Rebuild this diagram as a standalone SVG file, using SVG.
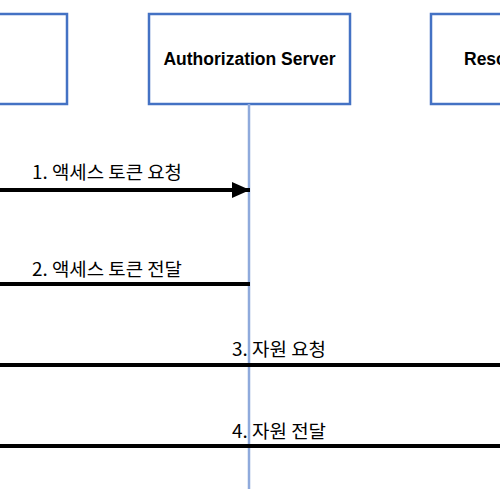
<svg xmlns="http://www.w3.org/2000/svg" width="500" height="500" viewBox="0 0 500 500">
<style>
.box{fill:#fff;stroke:#4472C4;stroke-width:2.5}
.title{font-family:"Liberation Sans","Noto Sans CJK KR",sans-serif;font-weight:bold;font-size:17.5px;fill:#000}
.lbl{font-family:"Noto Sans CJK KR","Noto Sans",sans-serif;font-size:18px;fill:#000}
.life{stroke:#8FAADC;stroke-width:2.5;fill:none}
.msg{stroke:#000;stroke-width:4;fill:none}
</style>
<defs>
<marker id="ah" viewBox="0 0 18 16" refX="18" refY="8" markerWidth="18" markerHeight="16" markerUnits="userSpaceOnUse" orient="auto">
<path d="M0,0 L18,8 L0,16 Z" fill="#000"/>
</marker>
</defs>
<rect width="500" height="500" fill="#fff"/>
<g id="client"><rect class="box" x="-134" y="14" width="201" height="90"/></g>
<g id="auth-server">
<rect class="box" x="149" y="14" width="201" height="90"/>
<text class="title" x="249.5" y="65" text-anchor="middle">Authorization Server</text>
</g>
<g id="resource-server">
<rect class="box" x="431" y="14" width="201" height="90"/>
<text class="title" x="464" y="65">Resource Server</text>
</g>
<g id="lifelines">
<line class="life" x1="249" y1="104" x2="249" y2="489"/>
</g>
<g id="connectors">
<line class="msg" x1="0" y1="190" x2="250" y2="190" marker-end="url(#ah)"/>
<text class="lbl" x="32" y="179" textLength="150" lengthAdjust="spacingAndGlyphs">1. 액세스 토큰 요청</text>
<line class="msg" x1="0" y1="284" x2="250" y2="284"/>
<text class="lbl" x="32" y="276" textLength="150" lengthAdjust="spacingAndGlyphs">2. 액세스 토큰 전달</text>
<line class="msg" x1="0" y1="365" x2="500" y2="365"/>
<text class="lbl" x="232" y="356" textLength="94" lengthAdjust="spacingAndGlyphs">3. 자원 요청</text>
<line class="msg" x1="0" y1="446" x2="500" y2="446"/>
<text class="lbl" x="232" y="438" textLength="94" lengthAdjust="spacingAndGlyphs">4. 자원 전달</text>
</g>
</svg>
